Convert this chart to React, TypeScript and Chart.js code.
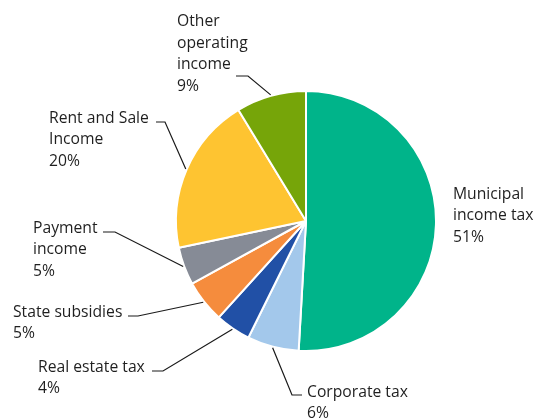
import React, { useEffect, useRef } from "react";
import { Chart, registerables } from "chart.js";

Chart.register(...registerables);

const categories = [
  "Municipal income tax",
  "Corporate tax",
  "Real estate tax",
  "State subsidies",
  "Payment income",
  "Rent and Sale Income",
  "Other operating income",
];
const shares = [50.9, 6.4, 4.4, 5.3, 4.7, 19.6, 8.7];
const percentLabels = ["51%", "6%", "4%", "5%", "5%", "20%", "9%"];
const labelTextLines = [
  ["Municipal", "income tax"],
  ["Corporate tax"],
  ["Real estate tax"],
  ["State subsidies"],
  ["Payment", "income"],
  ["Rent and Sale", "Income"],
  ["Other", "operating", "income"],
];
const sliceColors = ["#00B48A", "#A3C8EB", "#2150A6", "#F58C3D", "#868B96", "#FEC431", "#76A509"];

type Layout = { x: number; y: number; leader: number[][] | null };
const labelLayout: Layout[] = [
  { x: 453, y: 198.5, leader: null },
  { x: 307, y: 396.5, leader: [[292, 395], [302, 395]] },
  { x: 38, y: 371.5, leader: [[163, 371], [152, 371]] },
  { x: 13, y: 316.5, leader: [[138, 316], [128, 316]] },
  { x: 33, y: 232.7, leader: [[115, 232], [103, 232]] },
  { x: 49, y: 122.5, leader: [[165, 122], [156, 122]] },
  { x: 177, y: 26, leader: [[248, 76], [236, 76]] },
];
const LINE_H = 21.7;

const labelPlugin = {
  id: "pieLabels",
  afterDatasetsDraw(chart: any) {
    const ctx = chart.ctx as CanvasRenderingContext2D;
    const meta = chart.getDatasetMeta(0);
    ctx.save();
    meta.data.forEach((arc: any, i: number) => {
      const p = arc.getProps(["x", "y", "startAngle", "endAngle", "outerRadius"], true);
      const lay = labelLayout[i];
      if (lay.leader) {
        const mid = (p.startAngle + p.endAngle) / 2;
        const r = p.outerRadius + 1;
        ctx.beginPath();
        ctx.moveTo(p.x + Math.cos(mid) * r, p.y + Math.sin(mid) * r);
        lay.leader.forEach((pt) => ctx.lineTo(pt[0], pt[1]));
        ctx.strokeStyle = "#1a1a1a";
        ctx.lineWidth = 1.2;
        ctx.stroke();
      }
      ctx.fillStyle = "#1f1f1f";
      ctx.font = '15.7px "Open Sans"';
      ctx.textAlign = "left";
      ctx.textBaseline = "alphabetic";
      const lines = [...labelTextLines[i], percentLabels[i]];
      lines.forEach((t, k) => ctx.fillText(t, lay.x, lay.y + k * LINE_H));
    });
    ctx.restore();
  },
};

export default function App() {
  const ref = useRef<HTMLCanvasElement | null>(null);
  useEffect(() => {
    if (!ref.current) return;
    const chart = new Chart(ref.current, {
      type: "pie",
      data: {
        labels: categories,
        datasets: [
          {
            data: shares,
            backgroundColor: sliceColors,
            borderColor: "#ffffff",
            borderWidth: 2,
          },
        ],
      },
      options: {
        animation: false,
        responsive: false,
        radius: 130,
        layout: { padding: { left: 176, right: 101, top: 91, bottom: 69 } },
        plugins: { legend: { display: false }, tooltip: { enabled: false } },
      } as any,
      plugins: [labelPlugin],
    });
    return () => chart.destroy();
  }, []);
  return (
    <div style={{ position: "absolute", left: 0, top: 0, width: 537, height: 420, background: "#fff" }}>
      <canvas ref={ref} width={537} height={420} style={{ width: 537, height: 420 }} />
    </div>
  );
}
